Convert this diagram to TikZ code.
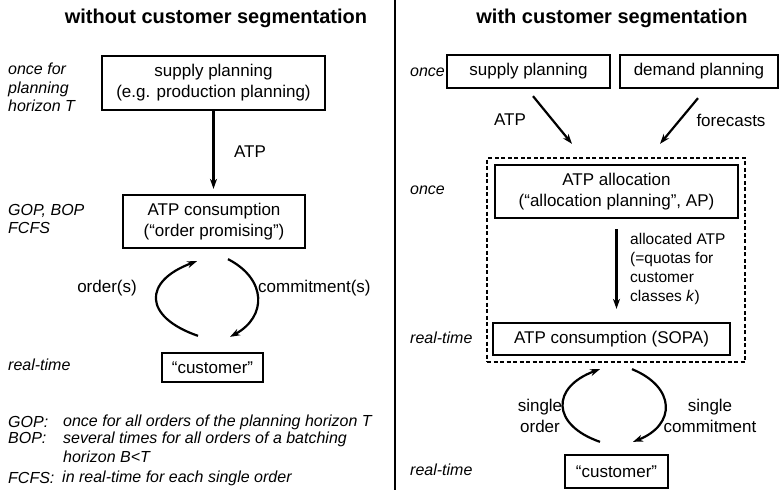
\documentclass[tikz,border=0pt]{standalone}
\usepackage{fontspec}
\setmainfont{Liberation Sans}
\usetikzlibrary{arrows.meta,calc}
\tikzset{
  box/.style={draw, line width=2.3pt, inner sep=0pt, align=center, font=\fontsize{17}{21}\selectfont},
  lbl/.style={inner sep=0pt, font=\fontsize{17}{21}\selectfont, align=center},
  side/.style={inner sep=0pt, anchor=west, align=left, font=\fontsize{16}{18.5}\selectfont\itshape},
  ttl/.style={inner sep=0pt, font=\fontsize{20}{23}\selectfont\bfseries},
  arr/.style={line width=2.2pt, -{Stealth[length=10pt,width=7pt]}},
  dashbox/.style={draw, dash pattern=on 4pt off 2.5pt, line width=1.2pt, inner sep=0pt}
}
\begin{document}
\begin{tikzpicture}[x=1pt,y=-1pt]
\useasboundingbox[fill=white] (0,0) rectangle (780,490);
% titles and divider
\node[ttl] (t1) at (216,18) {without customer segmentation};
\node[ttl] (t2) at (612,18) {with customer segmentation};
\draw[line width=1.5pt] (395,0) -- (395,490);
% ---------- left ----------
\node[box, minimum width=223pt, minimum height=54pt] (sp1) at (213.5,83) {supply planning\\(e.g. production planning)};
\node[box, minimum width=182pt, minimum height=53pt] (atpc) at (214,221.5) {ATP consumption\\(“order promising”)};
\node[box, minimum width=101pt, minimum height=29pt] (cust1) at (212.5,367.5) {“customer”};
\draw[arr, shorten >=5pt] (sp1.south) -- (sp1.south |- atpc.north);
\node[lbl] (atpl) at (250,152) {ATP};
\draw[arr] ([xshift=-14.5pt,yshift=16pt]cust1.north) .. controls +(-55,-19) and +(-54,20) .. ([xshift=-17pt,yshift=-12pt]atpc.south);
\draw[arr] ([xshift=14pt,yshift=-10pt]atpc.south) .. controls +(39,20) and +(37,-20) .. ([xshift=17.5pt,yshift=15pt]cust1.north);
\node[lbl, anchor=east] (ord) at (137,288) {order(s)};
\node[lbl, anchor=west] (com) at (258,288) {commitment(s)};
\node[side, anchor=north west] (s1) at (8,63) {once for\\planning\\horizon T};
\node[side, anchor=north west] (s2) at (8,204) {GOP, BOP\\FCFS};
\node[side] (s3) at (8,365) {real-time};
\node[side] (f1) at (8,422) {GOP:};
\node[side] (f1t) at (63,422) {once for all orders of the planning horizon T};
\node[side, anchor=north west] (f2) at (8,432) {BOP:};
\node[side, anchor=north west] (f2t) at (63,432) {several times for all orders of a batching\\horizon B<T};
\node[side] (f3) at (8,478) {FCFS:};
\node[side] (f3t) at (62,478) {in real-time for each single order};
% ---------- right ----------
\node[side] (r1) at (410,72) {once};
\node[side] (r2) at (410,190) {once};
\node[side] (r3) at (410,338) {real-time};
\node[side] (r4) at (410,470) {real-time};
\node[box, minimum width=163pt, minimum height=33pt] (sp2) at (528.5,71.5) {supply planning};
\node[box, minimum width=158pt, minimum height=33pt] (dp) at (699,71.5) {demand planning};
\node[dashbox, minimum width=258pt, minimum height=204pt] (dash) at (616,260) {};
\node[box, minimum width=243pt, minimum height=53pt] (alloc) at (616.5,191.5) {ATP allocation\\(“allocation planning”, AP)};
\node[box, minimum width=237pt, minimum height=32pt] (sopa) at (611.5,339) {ATP consumption (SOPA)};
\node[box, minimum width=103pt, minimum height=33pt] (cust2) at (616.5,471.5) {“customer”};
\draw[arr] ([xshift=4.5pt,yshift=-7pt]sp2.south) -- ([xshift=-44.5pt,yshift=20pt]alloc.north);
\draw[arr] ([xshift=-1pt,yshift=-9pt]dp.south) -- ([xshift=43.5pt,yshift=20pt]alloc.north);
\node[lbl] (atp2) at (510,120) {ATP};
\node[lbl] (fc) at (731,120) {forecasts};
\draw[arr, shorten <=10pt, shorten >=13pt] (alloc.south) -- (alloc.south |- sopa.north);
\node[side, anchor=north west, font=\fontsize{15.5}{19}\selectfont] (al) at (630,233) {allocated ATP\\(=quotas for\\customer\\classes \textit{k})};
\draw[arr] ([xshift=-16.5pt,yshift=12pt]cust2.north) .. controls +(-49,-17) and +(-49,18) .. ([xshift=-11.5pt,yshift=-13pt]sopa.south);
\draw[arr] ([xshift=20.5pt,yshift=-13pt]sopa.south) .. controls +(44,18) and +(43,-17) .. ([xshift=16.5pt,yshift=12pt]cust2.north);
\node[lbl] (so) at (540,416) {single\\order};
\node[lbl] (sc) at (710,416) {single\\commitment};
\end{tikzpicture}
\end{document}
